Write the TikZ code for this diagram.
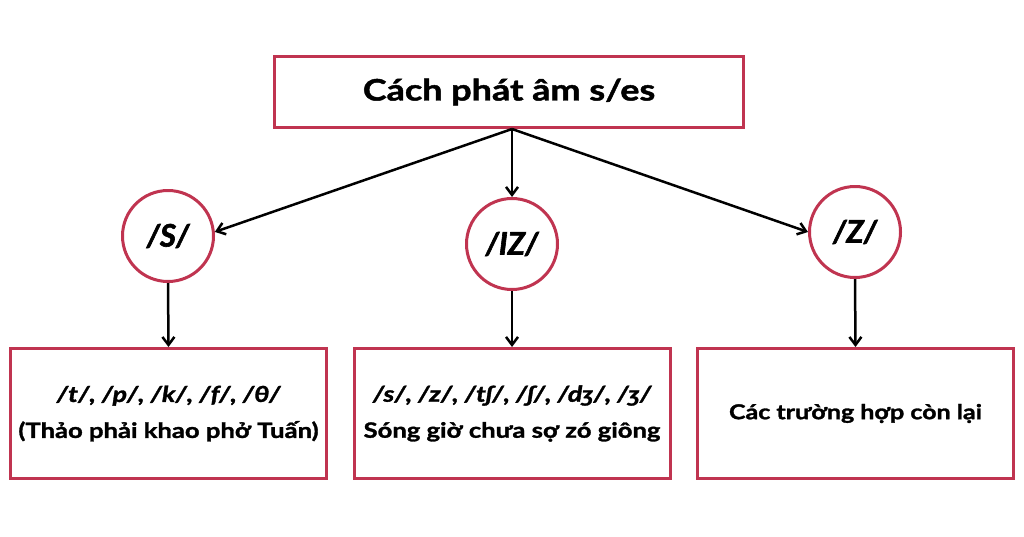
\documentclass[tikz,border=0pt]{standalone}
\usepackage{fontspec}
\setmainfont{Lato}
\newfontfamily\widefont{Lato}[FakeStretch=1.22, BoldFeatures={FakeBold=1.5}, BoldItalicFeatures={FakeBold=1.5}]
\newfontfamily\circfont{Lato}[BoldFeatures={FakeBold=2}, BoldItalicFeatures={FakeBold=2}]
\usetikzlibrary{arrows.meta}
\definecolor{brd}{RGB}{192,52,80}
\begin{document}
\begin{tikzpicture}[x=1pt,y=-1pt,
  box/.style={draw=brd, line width=3pt, fill=white, inner sep=0pt, align=center,
    minimum width=316pt, minimum height=130pt, font=\widefont\bfseries\fontsize{21}{36}\selectfont},
  circ/.style={circle, draw=brd, line width=3pt, minimum size=91pt, inner sep=0pt,
    font=\circfont\bfseries\itshape\fontsize{31}{31}\selectfont},
  arr/.style={-{Straight Barb[length=8pt,width=12pt,line width=2.5pt]}, line width=2.5pt}]
\fill[white] (0,0) rectangle (1024,536);
\useasboundingbox (0,0) rectangle (1024,536);
\node[box, minimum width=469pt, minimum height=71pt, font=\widefont\bfseries\fontsize{29.5}{29.5}\selectfont] (top) at (509,92) {Cách phát âm s/es};
\node[circ] (s) at (168,236) {/S/};
\node[circ] (iz) at (512,244) {/IZ/};
\node[circ] (z) at (855,232) {/Z/};
\node[box] (b1) at (168.5,413.5) {{\itshape\fontsize{22}{36}\selectfont /t/, /p/, /k/, /f/, /θ/}\\(Thảo phải khao phở Tuấn)};
\node[box] (b2) at (512,413.5) {{\itshape\fontsize{22}{36}\selectfont /s/, /z/, /tʃ/, /ʃ/, /dʒ/, /ʒ/}\\Sóng giờ chưa sợ zó giông};
\node[box, font=\widefont\bfseries\fontsize{20.5}{24}\selectfont] (b3) at (855.5,413.5) {Các trường hợp còn lại};
\coordinate (o) at (top.south -| iz);
\draw[arr] (o) -- (s.5);
\draw[arr] (o) -- (iz.north);
\draw[arr] (o) -- (z.west);
\draw[arr] (s.south) -- (b1.north);
\draw[arr] (iz.south) -- (b2.north);
\draw[arr] (z.south) -- (b3.north);
\end{tikzpicture}
\end{document}
